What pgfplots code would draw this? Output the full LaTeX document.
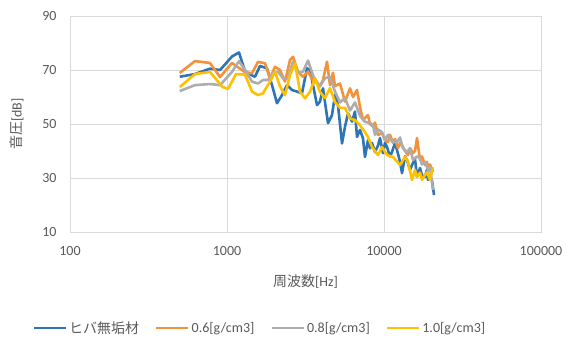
\documentclass[border=0pt]{standalone}
\usepackage{fontspec}
\setmainfont{Carlito}
\newfontfamily\jp{Noto Sans CJK JP}
\usepackage{pgfplots}
\pgfplotsset{compat=1.18}
\definecolor{txt}{HTML}{595959}
\definecolor{grd}{HTML}{D9D9D9}
\definecolor{cblue}{HTML}{2E75B6}
\definecolor{corange}{HTML}{F39238}
\definecolor{cgray}{HTML}{ADADAD}
\definecolor{cyellow}{HTML}{FFC000}
\begin{document}
\begin{tikzpicture}
\useasboundingbox (0,0) rectangle (576pt,340pt);
\begin{axis}[
  at={(70pt,108pt)}, anchor=south west,
  scale only axis, width=471pt, height=216pt,
  xmode=log, log basis x=10,
  xmin=100, xmax=100000, ymin=10, ymax=90,
  xtick={100,1000,10000,100000},
  xticklabels={100,1000,10000,100000},
  ytick={10,30,50,70,90},
  grid=major,
  major grid style={draw=grd, line width=0.8pt},
  axis line style={draw=grd, line width=0.8pt},
  tick style={draw=none},
  /pgf/number format/assume math mode=true,
  ticklabel style={font=\fontsize{14}{16}\selectfont, text=txt},
  xticklabel style={yshift=-11pt},
  yticklabel style={xshift=-10pt},
  xlabel={{\jp 周波数}[Hz]},
  ylabel={{\jp 音圧}[dB]},
  label style={font=\fontsize{14}{16}\selectfont, text=txt},
  xlabel style={yshift=-12pt},
  ylabel style={yshift=12pt},
  legend columns=4,
  legend style={at={(0.403,-0.444)}, anchor=center, draw=none, fill=none,
    font=\fontsize{14}{16}\selectfont, text=txt,
    /tikz/every even column/.append style={column sep=14pt}},
  legend image code/.code={\draw[#1, line width=2.6pt] (0pt,0pt) -- (32pt,0pt);},
  every axis plot/.append style={line width=2.6pt, line join=round, mark=none},
]
\addplot[cblue] coordinates {(500,67.5)(625,68.5)(779,70.5)(903,70)(1076,75)(1192,76.5)(1302,69.5)(1443,68)(1508,67.5)(1623,71.5)(1798,70.6)(1935,64.4)(2082,57.7)(2240,60.7)(2411,64.4)(2594,62.6)(2792,62)(3004,61.4)(3233,70.6)(3379,70)(3531,64.4)(3744,57)(3911,58.3)(4088,63.2)(4399,50.3)(4664,53.3)(4874,60.7)(5093,57)(5402,42.8)(5645,49)(5899,54)(6255,50.9)(6536,54.6)(6730,45.2)(7033,47.8)(7349,44.7)(7567,37.8)(7907,44)(8143,41)(8384,43)(8761,39.6)(9156,42)(9430,44.8)(9853,39.2)(10150,43)(10450,41.5)(10920,38)(11240,39.6)(11750,43)(12100,40.4)(12650,36)(13020,31.8)(13610,38)(14010,36.7)(14640,33)(15080,34.8)(15760,37)(16230,30.4)(16960,33.7)(17460,31)(18240,30.4)(18780,33)(19060,29.3)(19630,31)(20220,29)(20830,23.7)};
\addlegendentry{{\jp ヒバ無垢材}}
\addplot[corange] coordinates {(500,68.9)(625,73.3)(779,72.6)(903,67.4)(1076,72.6)(1302,69.2)(1443,68.8)(1576,73)(1746,72.5)(1879,66.9)(2022,71.2)(2176,70)(2341,65.7)(2519,73.7)(2633,74.9)(2833,69.4)(3049,67.5)(3281,69.4)(3531,66)(3744,65)(3911,64)(4088,66.3)(4335,73.1)(4529,64.4)(4733,69)(4874,64)(5245,65)(5645,58.3)(6074,63.2)(6347,60)(6730,62.6)(7033,56.3)(7349,51.5)(7907,53.3)(8143,50)(8509,49)(8761,50.5)(9156,45.9)(9710,46.7)(10150,44)(10600,43.3)(10920,46)(11410,43)(11750,44.5)(12280,41.1)(12650,43)(13210,41.5)(13610,40)(14220,38.5)(14640,41)(15300,39.2)(15760,40)(16230,44.8)(16960,36.7)(17460,38)(18240,34.8)(18780,36)(19060,33.7)(19630,35)(20510,32.2)};
\addlegendentry{0.6[g/cm3]}
\addplot[cgray] coordinates {(500,62.2)(625,64.4)(779,64.8)(903,64.4)(1076,69.3)(1192,73.3)(1302,70)(1443,65.7)(1576,65)(1696,66.3)(1824,66.3)(1963,68.8)(2113,69.4)(2274,66.9)(2446,66.9)(2633,73.1)(2833,68.8)(3049,69.4)(3281,73.5)(3531,68)(3744,65.5)(3911,64)(4209,67)(4529,67.4)(4874,62)(5245,58)(5645,59.6)(6074,55)(6536,58)(7033,53)(7567,50.8)(8143,50.4)(8509,49.6)(8761,46)(9156,48)(9710,47)(10150,44)(10600,46)(11240,43.5)(12100,43.3)(12650,45)(13210,41)(14010,39.6)(14640,41)(15300,36.7)(16230,38)(16960,37.4)(17460,35)(18240,36)(19060,33)(19630,34)(20510,25.6)};
\addlegendentry{0.8[g/cm3]}
\addplot[cyellow] coordinates {(500,63.7)(625,68.5)(779,69.3)(936,63.7)(1015,63)(1141,68.5)(1302,68.3)(1443,62)(1576,60.7)(1696,61.4)(1879,65.7)(2022,69.4)(2176,63.9)(2341,60.7)(2519,68.1)(2711,72.5)(2917,62)(3140,59.5)(3379,62)(3636,66.9)(3911,61.9)(4209,59.6)(4529,63.3)(4874,58.1)(5245,56)(5645,56)(6074,52)(6536,51.5)(7033,49.5)(7567,47)(7907,45.2)(8384,41.5)(9156,38.5)(9710,41.5)(10450,38.5)(11410,37.8)(12650,34.8)(13610,37.8)(14220,36)(15080,29.3)(15760,33)(16230,30.4)(16960,32)(17460,29.3)(18780,32.2)(19630,29.3)(20510,34)};
\addlegendentry{1.0[g/cm3]}
\end{axis}
\end{tikzpicture}
\end{document}
